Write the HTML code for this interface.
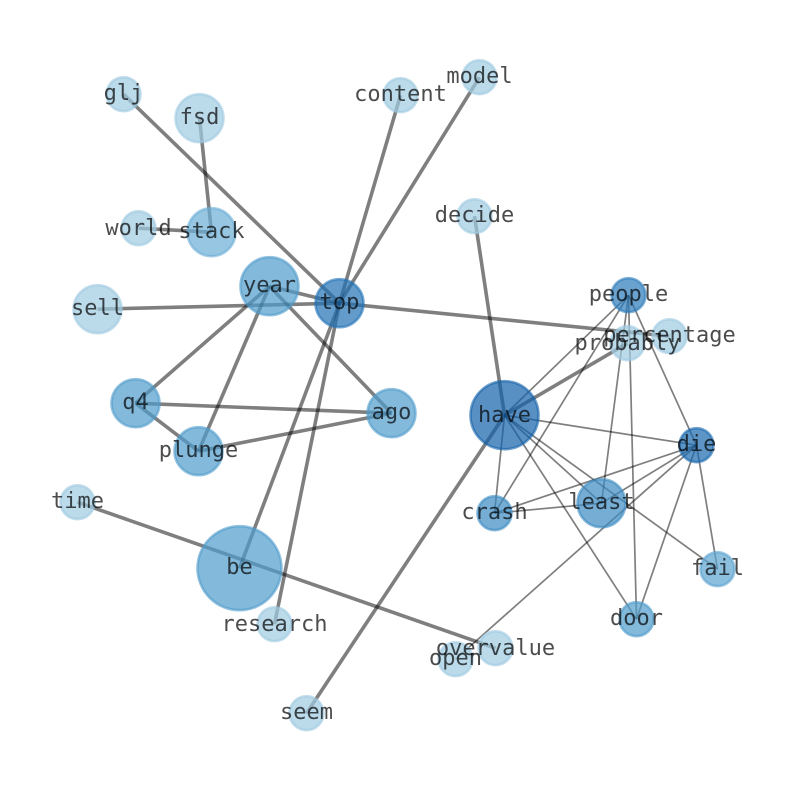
<!DOCTYPE html>
<html><head><meta charset="utf-8"><style>html,body{margin:0;padding:0;background:#fff;width:794px;height:790px;overflow:hidden}svg{display:block}
text{font-family:"DejaVu Sans Mono","Liberation Mono",monospace;font-size:22px;fill:#000;fill-opacity:.7;text-anchor:middle}
.e1 line{stroke:#000;stroke-opacity:.5;stroke-width:3.6}
.e2 line{stroke:#000;stroke-opacity:.5;stroke-width:1.7}
circle{stroke-width:2.6;fill-opacity:.7;stroke-opacity:.6}</style></head><body>
<svg width="794" height="790" viewBox="0 0 794 790" xmlns="http://www.w3.org/2000/svg">
<g transform="translate(0.5,0.2)">
<g class="e1">
<line x1="123" y1="94" x2="339" y2="303"/><line x1="199" y1="118" x2="211" y2="232"/><line x1="138" y1="228" x2="211" y2="232"/>
<line x1="97" y1="309" x2="339" y2="303"/><line x1="269" y1="286" x2="339" y2="303"/><line x1="269" y1="286" x2="135" y2="403"/><line x1="269" y1="286" x2="198" y2="451"/><line x1="269" y1="286" x2="391" y2="413"/>
<line x1="135" y1="403" x2="391" y2="413"/><line x1="135" y1="403" x2="198" y2="451"/><line x1="198" y1="451" x2="391" y2="413"/>
<line x1="339" y1="303" x2="400" y2="95"/><line x1="339" y1="303" x2="479" y2="77"/><line x1="339" y1="303" x2="239" y2="568"/><line x1="339" y1="303" x2="274" y2="624"/><line x1="339" y1="303" x2="669" y2="336"/>
<line x1="77" y1="502" x2="495" y2="648"/><line x1="474" y1="216" x2="504" y2="415"/><line x1="504" y1="415" x2="627" y2="343"/><line x1="504" y1="415" x2="306" y2="713"/>
</g>
<g class="e2">
<line x1="628" y1="295" x2="504" y2="415"/><line x1="628" y1="295" x2="494" y2="513"/><line x1="628" y1="295" x2="601" y2="503"/><line x1="628" y1="295" x2="636" y2="619"/><line x1="628" y1="295" x2="696" y2="445"/>
<line x1="504" y1="415" x2="696" y2="445"/><line x1="504" y1="415" x2="494" y2="513"/><line x1="504" y1="415" x2="601" y2="503"/><line x1="504" y1="415" x2="717" y2="569"/><line x1="504" y1="415" x2="636" y2="619"/>
<line x1="696" y1="445" x2="494" y2="513"/><line x1="696" y1="445" x2="601" y2="503"/><line x1="696" y1="445" x2="636" y2="619"/><line x1="696" y1="445" x2="717" y2="569"/><line x1="696" y1="445" x2="455" y2="659"/>
<line x1="494" y1="513" x2="601" y2="503"/>
</g>
<g>
<circle cx="123" cy="94" r="17" fill="#9ecae1" stroke="#9ecae1"/>
<circle cx="199" cy="118" r="24" fill="#9ecae1" stroke="#9ecae1"/>
<circle cx="211" cy="232" r="24" fill="#6baed6" stroke="#6baed6"/>
<circle cx="138" cy="228" r="17" fill="#9ecae1" stroke="#9ecae1"/>
<circle cx="269" cy="286" r="29" fill="#4f9bcb" stroke="#4f9bcb"/>
<circle cx="339" cy="303" r="24" fill="#2171b5" stroke="#2171b5"/>
<circle cx="97" cy="309" r="24" fill="#9ecae1" stroke="#9ecae1"/>
<circle cx="135" cy="403" r="24" fill="#4f9bcb" stroke="#4f9bcb"/>
<circle cx="198" cy="451" r="24" fill="#4f9bcb" stroke="#4f9bcb"/>
<circle cx="391" cy="413" r="24" fill="#4f9bcb" stroke="#4f9bcb"/>
<circle cx="400" cy="95" r="17" fill="#9ecae1" stroke="#9ecae1"/>
<circle cx="479" cy="77" r="17" fill="#9ecae1" stroke="#9ecae1"/>
<circle cx="474" cy="216" r="17" fill="#9ecae1" stroke="#9ecae1"/>
<circle cx="628" cy="295" r="17" fill="#2b7bba" stroke="#2b7bba"/>
<circle cx="669" cy="336" r="17" fill="#9ecae1" stroke="#9ecae1"/>
<circle cx="627" cy="343" r="17" fill="#9ecae1" stroke="#9ecae1"/>
<circle cx="504" cy="415" r="34" fill="#1361a9" stroke="#1361a9"/>
<circle cx="696" cy="445" r="17" fill="#1868ae" stroke="#1868ae"/>
<circle cx="494" cy="513" r="17" fill="#3a8ac2" stroke="#3a8ac2"/>
<circle cx="601" cy="503" r="24" fill="#3a8ac2" stroke="#3a8ac2"/>
<circle cx="717" cy="569" r="17" fill="#5ba3d0" stroke="#5ba3d0"/>
<circle cx="636" cy="619" r="17" fill="#4f9bcb" stroke="#4f9bcb"/>
<circle cx="77" cy="502" r="17" fill="#9ecae1" stroke="#9ecae1"/>
<circle cx="239" cy="568" r="42" fill="#4f9bcb" stroke="#4f9bcb"/>
<circle cx="274" cy="624" r="17" fill="#9ecae1" stroke="#9ecae1"/>
<circle cx="495" cy="648" r="17" fill="#9ecae1" stroke="#9ecae1"/>
<circle cx="455" cy="659" r="17" fill="#9ecae1" stroke="#9ecae1"/>
<circle cx="306" cy="713" r="17" fill="#9ecae1" stroke="#9ecae1"/>
</g>
<g>
<text x="123" y="100">glj</text><text x="199" y="124">fsd</text><text x="211" y="238">stack</text><text x="138" y="235">world</text>
<text x="269" y="292">year</text><text x="339" y="309">top</text><text x="97" y="315">sell</text><text x="135" y="409">q4</text>
<text x="198" y="457">plunge</text><text x="391" y="419">ago</text><text x="400" y="101">content</text><text x="479" y="83">model</text>
<text x="474" y="222">decide</text><text x="628" y="301">people</text><text x="669" y="342">percentage</text><text x="627" y="350">probably</text>
<text x="504" y="422">have</text><text x="696" y="451">die</text><text x="494" y="519">crash</text><text x="601" y="509">least</text>
<text x="717" y="575">fail</text><text x="636" y="625">door</text><text x="77" y="508">time</text><text x="239" y="574">be</text>
<text x="274" y="631">research</text><text x="495" y="655">overvalue</text><text x="455" y="665">open</text><text x="306" y="719">seem</text>
</g>
</g>
</svg></body></html>
